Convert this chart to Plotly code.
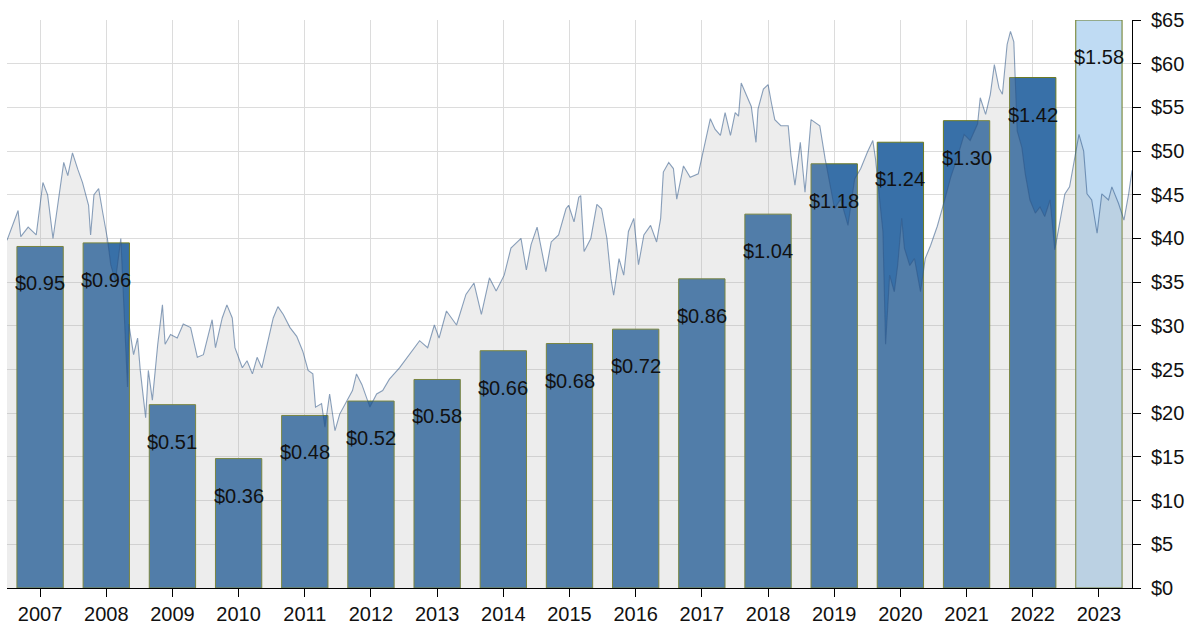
import plotly.graph_objects as go

years = [str(y) for y in range(2007, 2024)]
dividends = [0.95, 0.96, 0.51, 0.36, 0.48, 0.52, 0.58, 0.66, 0.68, 0.72,
             0.86, 1.04, 1.18, 1.24, 1.30, 1.42, 1.58]
bar_colors = ["#3870a8"] * 16 + ["#bfdbf3"]

price_t = [
    2007.135, 2007.30, 2007.34, 2007.45, 2007.57, 2007.67, 2007.74, 2007.82, 2007.89, 2007.98,
    2008.04, 2008.11, 2008.19, 2008.26, 2008.35, 2008.38, 2008.43, 2008.50, 2008.56, 2008.63,
    2008.68, 2008.75, 2008.83, 2008.87, 2008.93, 2008.95, 2009.02, 2009.08, 2009.12, 2009.20,
    2009.24, 2009.30, 2009.38, 2009.45, 2009.49, 2009.57, 2009.67, 2009.76, 2009.87, 2009.97,
    2010.06, 2010.19, 2010.24, 2010.34, 2010.41, 2010.49, 2010.53, 2010.64, 2010.71, 2010.79,
    2010.86, 2010.93, 2011.01, 2011.10, 2011.17, 2011.25, 2011.35, 2011.45, 2011.54, 2011.62,
    2011.69, 2011.73, 2011.82, 2011.87, 2011.94, 2012.02, 2012.09, 2012.19, 2012.28, 2012.34,
    2012.42, 2012.54, 2012.64, 2012.73, 2012.83, 2012.98, 2013.13, 2013.28, 2013.40, 2013.50,
    2013.57, 2013.68, 2013.83, 2013.97, 2014.09, 2014.20, 2014.32, 2014.42, 2014.54, 2014.64,
    2014.79, 2014.87, 2014.94, 2015.03, 2015.16, 2015.24, 2015.35, 2015.46, 2015.50, 2015.58,
    2015.65, 2015.68, 2015.73, 2015.83, 2015.92, 2015.99, 2016.07, 2016.13, 2016.17, 2016.25,
    2016.32, 2016.39, 2016.47, 2016.54, 2016.62, 2016.72, 2016.81, 2016.87, 2016.91, 2016.99,
    2017.06, 2017.11, 2017.21, 2017.31, 2017.43, 2017.48, 2017.54, 2017.61, 2017.68, 2017.76,
    2017.83, 2017.91, 2017.98, 2018.03, 2018.07, 2018.14, 2018.22, 2018.29, 2018.32, 2018.40,
    2018.47, 2018.52, 2018.57, 2018.66, 2018.77, 2018.81, 2018.87, 2018.95, 2019.02, 2019.11,
    2019.24, 2019.32, 2019.39, 2019.46, 2019.55, 2019.66, 2019.76, 2019.85, 2019.95, 2020.03,
    2020.07, 2020.12, 2020.18, 2020.22, 2020.28, 2020.35, 2020.40, 2020.46, 2020.50, 2020.58,
    2020.65, 2020.74, 2020.81, 2020.89, 2020.99, 2021.10, 2021.19, 2021.29, 2021.39, 2021.48,
    2021.59, 2021.63, 2021.71, 2021.78, 2021.84, 2021.91, 2021.96, 2022.03, 2022.08, 2022.13,
    2022.18, 2022.25, 2022.30, 2022.37, 2022.45, 2022.52, 2022.59, 2022.67, 2022.74, 2022.82,
    2022.89, 2022.96, 2023.04, 2023.10, 2023.17, 2023.22, 2023.29, 2023.37, 2023.44, 2023.54,
    2023.59, 2023.69, 2023.77, 2023.84, 2023.89,
]
price_v = [
    39.8, 43.2, 40.2, 41.3, 40.4, 46.4, 45.0, 40.0, 43.8, 48.7,
    47.2, 49.8, 47.9, 46.4, 43.8, 40.4, 45.0, 45.7, 43.0, 40.0,
    37.0, 35.1, 40.0, 33.2, 23.0, 30.2, 26.7, 28.6, 24.9, 19.5,
    24.9, 21.5, 27.9, 32.4, 27.9, 29.0, 28.6, 30.2, 29.8, 26.4,
    26.7, 30.7, 27.5, 30.9, 32.4, 30.9, 27.5, 25.2, 26.0, 24.5,
    26.4, 25.2, 27.9, 30.9, 32.2, 31.3, 29.8, 28.8, 27.1, 24.9,
    24.5, 20.7, 21.1, 18.4, 22.2, 18.0, 19.9, 21.4, 22.6, 24.5,
    23.3, 20.7, 22.2, 22.6, 23.9, 25.2, 26.7, 28.3, 27.5, 30.1,
    28.6, 31.7, 30.1, 33.6, 34.9, 31.3, 35.5, 34.0, 35.8, 38.9,
    40.0, 36.4, 39.3, 41.3, 36.2, 39.6, 40.4, 43.4, 43.8, 41.9,
    44.7, 44.9, 38.5, 40.0, 43.9, 43.4, 40.0, 35.4, 33.5, 37.7,
    35.8, 40.8, 42.3, 37.0, 40.4, 41.5, 39.6, 42.3, 47.6, 48.7,
    48.0, 44.5, 48.3, 47.0, 47.4, 49.1, 51.4, 53.7, 52.5, 51.8,
    54.4, 51.8, 54.4, 54.0, 57.8, 56.6, 55.1, 51.0, 54.8, 57.1,
    57.6, 55.5, 53.6, 52.9, 52.9, 49.5, 46.1, 51.0, 45.3, 53.6,
    52.9, 49.1, 46.1, 43.4, 44.5, 41.5, 46.8, 48.0, 49.9, 51.2,
    49.1, 45.3, 40.8, 27.9, 35.8, 33.9, 36.9, 42.3, 38.9, 36.9,
    37.7, 33.9, 37.7, 39.2, 41.4, 44.4, 47.0, 49.3, 51.9, 51.2,
    53.1, 56.1, 54.2, 56.5, 59.9, 57.2, 56.5, 62.2, 63.7, 62.5,
    52.3, 50.4, 47.4, 44.4, 42.9, 43.6, 42.5, 44.4, 38.7, 42.1,
    45.1, 45.9, 49.6, 51.9, 50.0, 45.1, 44.4, 40.6, 45.1, 44.4,
    45.9, 44.0, 42.1, 45.1, 47.8,
]

price_ticks = list(range(0, 70, 5))
price_ticktext = ["$" + str(v) for v in price_ticks]

FONT = "Arial, 'Liberation Sans', sans-serif"

fig = go.Figure()

fig.add_trace(go.Bar(
    x=years, y=dividends, xaxis="x", yaxis="y",
    marker=dict(color=bar_colors, line=dict(color="#6b7a22", width=1)),
    width=0.7, hoverinfo="skip", showlegend=False,
))

fig.add_trace(go.Scatter(
    x=price_t, y=price_v, xaxis="x2", yaxis="y2",
    mode="lines", fill="tozeroy",
    fillcolor="rgba(172,172,172,0.22)",
    line=dict(color="rgba(45,85,135,0.55)", width=1.1),
    hoverinfo="skip", showlegend=False,
))

# category axis: annotation positions use the category serial number
for i, d in enumerate(dividends):
    fig.add_annotation(
        x=i, y=d, xref="x", yref="y", text="$%.2f" % d,
        showarrow=False, yshift=-37,
        font=dict(family=FONT, size=20, color="#111111"),
    )

fig.update_layout(
    width=1191, height=632,
    margin=dict(l=7, r=56, t=20, b=40),
    paper_bgcolor="white", plot_bgcolor="white",
    font=dict(family=FONT, size=20, color="#111111"),
    xaxis=dict(
        type="category", range=[-0.5, 16.5],
        showgrid=True, gridcolor="#dcdcdc", gridwidth=1,
        showline=True, linecolor="black", linewidth=1,
        ticks="outside", ticklen=8, tickcolor="black",
        tickfont=dict(family=FONT, size=20, color="#111111"),
        fixedrange=True,
    ),
    yaxis=dict(
        range=[0, 1.58], showgrid=False, showline=False, zeroline=False,
        showticklabels=False, ticks="", fixedrange=True,
    ),
    xaxis2=dict(
        overlaying="x", range=[2007.135, 2023.89], visible=False,
        showgrid=False, fixedrange=True,
    ),
    yaxis2=dict(
        overlaying="y", side="right", anchor="x", range=[0, 65],
        tickvals=price_ticks, ticktext=price_ticktext,
        showgrid=True, gridcolor="#dcdcdc", gridwidth=1,
        showline=True, linecolor="black", linewidth=1,
        ticks="outside", ticklen=8, tickcolor="black",
        ticklabelstandoff=6,
        tickfont=dict(family=FONT, size=20, color="#111111"),
        zeroline=False, fixedrange=True,
    ),
)

fig.write_html(
    "out.html",
    config={"displayModeBar": False},
    post_script="document.body.style.margin='0px';document.body.style.padding='0px';",
)
